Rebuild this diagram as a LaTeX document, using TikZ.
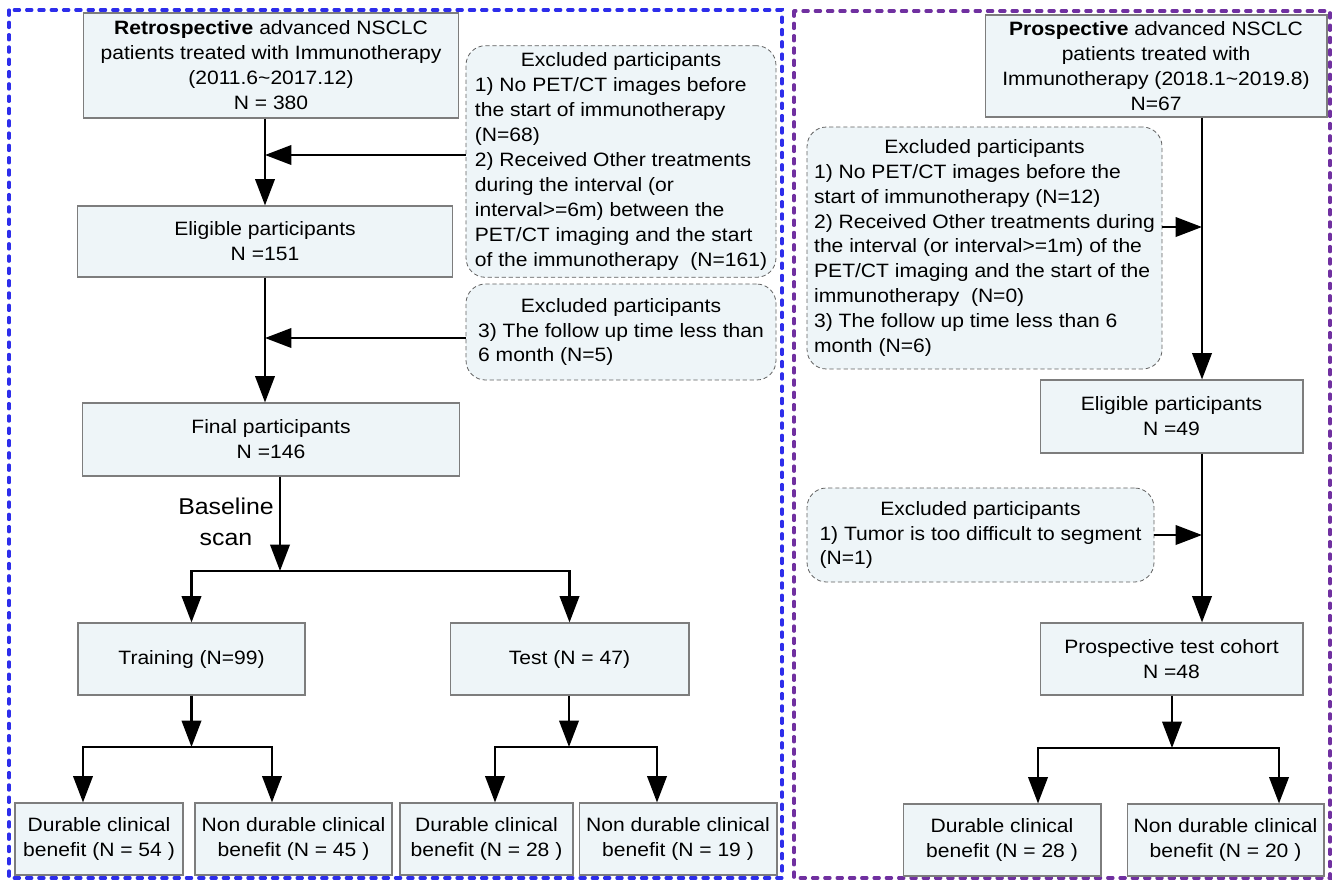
\documentclass[tikz,border=0pt]{standalone}
\usepackage{fontspec}
\setmainfont{Liberation Sans}[FakeStretch=1.09]
\usetikzlibrary{arrows.meta}
\definecolor{boxfill}{RGB}{238,245,248}
\definecolor{boxline}{RGB}{125,125,125}
\definecolor{excline}{RGB}{95,95,95}
\definecolor{retroblue}{RGB}{45,45,235}
\definecolor{prospurple}{RGB}{112,48,160}
\tikzset{stage/.style={draw=boxline, fill=boxfill, line width=0.6pt, align=center, font=\fontsize{11}{14.2}\selectfont, inner sep=2pt},
excl/.style={draw=excline, dash pattern=on 2.4pt off 1.6pt, fill=boxfill, line width=0.45pt, rounded corners=11pt, font=\fontsize{11}{14.2}\selectfont, inner sep=2pt},
flow/.style={-{Triangle[length=15pt, width=11pt]}, line width=1.5pt},
cohortframe/.style={line width=1.8pt, dash pattern=on 3pt off 4pt, line cap=round}}

\begin{document}
\begin{tikzpicture}[x=0.02cm, y=-0.02cm]
  \useasboundingbox (0,0) rectangle (1334,880);
  % Cadres
  \draw[cohortframe, draw=retroblue] (9,10) rectangle (782,878);
  \draw[cohortframe, draw=prospurple] (794,11) rectangle (1330,878);
  % Cohorte rétrospective
  \node[stage, minimum width=7.52cm, minimum height=2.1cm] (retro) at (271,65.5)
    {\textbf{Retrospective} advanced NSCLC\\patients treated with Immunotherapy\\(2011.6\textasciitilde 2017.12)\\N = 380};
  \node[stage, minimum width=7.52cm, minimum height=1.42cm] (elig1) at (265,241.5)
    {Eligible participants\\N =151};
  \node[stage, minimum width=7.56cm, minimum height=1.46cm] (final) at (271,439.5)
    {Final participants\\N =146};
  \node[excl, minimum width=6.2cm, minimum height=4.5cm] (ex1) at (621,161.5)
    {\begin{tabular}{@{}l@{}}\multicolumn{1}{@{}c@{}}{Excluded participants}\\
     1) No PET/CT images before\\the start of immunotherapy\\(N=68)\\
     2) Received Other treatments\\during the interval (or\\interval>=6m) between the\\
     PET/CT imaging and the start\\of the immunotherapy\ \ (N=161)\end{tabular}};
  \node[excl, minimum width=6.2cm, minimum height=1.92cm] (ex2) at (621,332)
    {\begin{tabular}{@{}l@{}}\multicolumn{1}{@{}c@{}}{Excluded participants}\\
     3) The follow up time less than\\6 month (N=5)\end{tabular}};
  \node[font=\fontsize{13}{17.6}\selectfont, align=center] (scanlbl) at (226,522) {Baseline\\scan};
  \node[stage, minimum width=4.54cm, minimum height=1.44cm] (train) at (191.5,659) {Training (N=99)};
  \node[stage, minimum width=4.78cm, minimum height=1.44cm] (test) at (569.5,659) {Test (N = 47)};
  \node[stage, minimum width=3.36cm, minimum height=1.44cm] (dcb1) at (99,839)
    {Durable clinical\\benefit (N = 54 )};
  \node[stage, minimum width=3.94cm, minimum height=1.44cm] (ndcb1) at (293.5,839)
    {Non durable clinical\\benefit (N = 45 )};
  \node[stage, minimum width=3.46cm, minimum height=1.44cm] (dcb2) at (486.5,839)
    {Durable clinical\\benefit (N = 28 )};
  \node[stage, minimum width=3.96cm, minimum height=1.44cm] (ndcb2) at (678,839)
    {Non durable clinical\\benefit (N = 19 )};
  % Cohorte prospective
  \node[stage, minimum width=6.84cm, minimum height=2.04cm] (prosp) at (1156,66)
    {\textbf{Prospective} advanced NSCLC\\patients treated with\\Immunotherapy (2018.1\textasciitilde 2019.8)\\N=67};
  \node[excl, minimum width=7.1cm, minimum height=4.84cm] (ex3) at (984.5,248)
    {\begin{tabular}{@{}l@{}}\multicolumn{1}{@{}c@{}}{Excluded participants}\\
     1) No PET/CT images before the\\start of immunotherapy (N=12)\\
     2) Received Other treatments during\\the interval (or interval>=1m) of the\\
     PET/CT imaging and the start of the\\immunotherapy\ \ (N=0)\\
     3) The follow up time less than 6\\month (N=6)\end{tabular}};
  \node[stage, minimum width=5.26cm, minimum height=1.46cm] (elig2) at (1171.5,416.5)
    {Eligible participants\\N =49};
  \node[excl, minimum width=6.94cm, minimum height=1.88cm] (ex4) at (980.5,535)
    {\begin{tabular}{@{}l@{}}\multicolumn{1}{@{}c@{}}{Excluded participants}\\
     1) Tumor is too difficult to segment\\(N=1)\end{tabular}};
  \node[stage, minimum width=5.26cm, minimum height=1.44cm] (cohort) at (1171.5,659)
    {Prospective test cohort\\N =48};
  \node[stage, minimum width=3.96cm, minimum height=1.44cm] (dcb3) at (1002,840)
    {Durable clinical\\benefit (N = 28 )};
  \node[stage, minimum width=3.94cm, minimum height=1.44cm] (ndcb3) at (1225.5,840)
    {Non durable clinical\\benefit (N = 20 )};
  % Points de branchement
  \coordinate (split1) at (280,571);
  \coordinate (split2) at (191.5,747);
  \coordinate (split3) at (569,747);
  \coordinate (split4) at (1172,748);
  \coordinate (rcol) at (1202,117);
  \coordinate (c1) at (83,747);
  \coordinate (c2) at (272,747);
  \coordinate (c3) at (495,747);
  \coordinate (c4) at (657,747);
  \coordinate (c5) at (1038,748);
  \coordinate (c6) at (1279,748);
  % Flèches
  \draw[flow] (elig1.north |- retro.south) -- (elig1.north);
  \draw[flow] ([yshift=0.13cm]ex1.west) -- ([yshift=0.13cm]ex1.west -| elig1.north);
  \draw[flow] (elig1.south) -- (elig1.south |- final.north);
  \draw[flow] ([yshift=-0.12cm]ex2.west) -- ([yshift=-0.12cm]ex2.west -| elig1.south);
  \draw[flow] (final.south -| split1) -- (split1);
  \draw[flow] (split1) -| (train.north);
  \draw[flow] (split1) -| (test.north);
  \draw[flow] (train.south) -- (split2);
  \draw[flow] (split2) -| (c1 |- dcb1.north);
  \draw[flow] (split2) -| (c2 |- ndcb1.north);
  \draw[flow] (test.south -| split3) -- (split3);
  \draw[flow] (split3) -| (c3 |- dcb2.north);
  \draw[flow] (split3) -| (c4 |- ndcb2.north);
  \draw[flow] (prosp.south -| rcol) -- (elig2.north -| rcol);
  \draw[flow] ([yshift=0.42cm]ex3.east) -- ([yshift=0.42cm]ex3.east -| rcol);
  \draw[flow] (elig2.south -| rcol) -- (cohort.north -| rcol);
  \draw[flow] (ex4.east) -- (ex4.east -| rcol);
  \draw[flow] (cohort.south -| split4) -- (split4);
  \draw[flow] (split4) -| (c5 |- dcb3.north);
  \draw[flow] (split4) -| (c6 |- ndcb3.north);
\end{tikzpicture}
\end{document}
